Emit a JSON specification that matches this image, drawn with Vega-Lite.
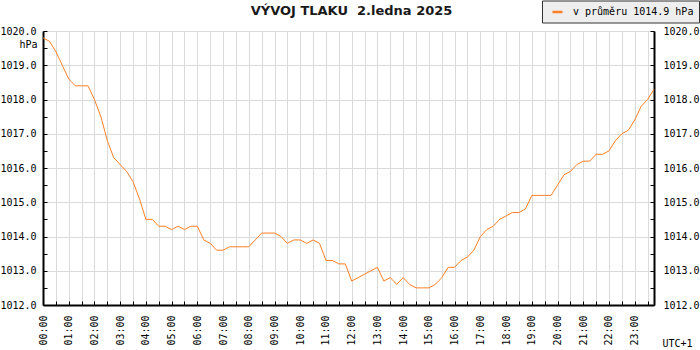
{
  "$schema": "https://vega.github.io/schema/vega-lite/v6.json",
  "autosize": {"type": "none"},
  "width": 611,
  "height": 274,
  "padding": {"left": 43, "top": 31, "right": 46, "bottom": 45},
  "background": "white",
  "title": {
    "text": "VÝVOJ TLAKU\u00a0 2.ledna 2025",
    "font": "DejaVu Sans",
    "fontSize": 13,
    "fontWeight": "bold",
    "color": "#1a1a1a",
    "anchor": "middle",
    "frame": "group",
    "baseline": "alphabetic",
    "offset": -27.5,
    "dx": 3
  },
  "config": {"view": {"stroke": null}},
  "data": {
    "format": {"parse": {"t": "utc:'%H:%M'"}},
    "values": [
      {"t": "00:00", "p": 1019.8}, {"t": "00:15", "p": 1019.7}, {"t": "00:30", "p": 1019.4}, {"t": "00:45", "p": 1019.0},
      {"t": "01:00", "p": 1018.6}, {"t": "01:15", "p": 1018.4}, {"t": "01:30", "p": 1018.4}, {"t": "01:45", "p": 1018.4},
      {"t": "02:00", "p": 1018.0}, {"t": "02:15", "p": 1017.5}, {"t": "02:30", "p": 1016.8}, {"t": "02:45", "p": 1016.3},
      {"t": "03:00", "p": 1016.1}, {"t": "03:15", "p": 1015.9}, {"t": "03:30", "p": 1015.6}, {"t": "03:45", "p": 1015.1},
      {"t": "04:00", "p": 1014.5}, {"t": "04:15", "p": 1014.5}, {"t": "04:30", "p": 1014.3}, {"t": "04:45", "p": 1014.3},
      {"t": "05:00", "p": 1014.2}, {"t": "05:15", "p": 1014.3}, {"t": "05:30", "p": 1014.2}, {"t": "05:45", "p": 1014.3},
      {"t": "06:00", "p": 1014.3}, {"t": "06:15", "p": 1013.9}, {"t": "06:30", "p": 1013.8}, {"t": "06:45", "p": 1013.6},
      {"t": "07:00", "p": 1013.6}, {"t": "07:15", "p": 1013.7}, {"t": "07:30", "p": 1013.7}, {"t": "07:45", "p": 1013.7},
      {"t": "08:00", "p": 1013.7}, {"t": "08:15", "p": 1013.9}, {"t": "08:30", "p": 1014.1}, {"t": "08:45", "p": 1014.1},
      {"t": "09:00", "p": 1014.1}, {"t": "09:15", "p": 1014.0}, {"t": "09:30", "p": 1013.8}, {"t": "09:45", "p": 1013.9},
      {"t": "10:00", "p": 1013.9}, {"t": "10:15", "p": 1013.8}, {"t": "10:30", "p": 1013.9}, {"t": "10:45", "p": 1013.8},
      {"t": "11:00", "p": 1013.3}, {"t": "11:15", "p": 1013.3}, {"t": "11:30", "p": 1013.2}, {"t": "11:45", "p": 1013.2},
      {"t": "12:00", "p": 1012.7}, {"t": "12:15", "p": 1012.8}, {"t": "12:30", "p": 1012.9}, {"t": "12:45", "p": 1013.0},
      {"t": "13:00", "p": 1013.1}, {"t": "13:15", "p": 1012.7}, {"t": "13:30", "p": 1012.8}, {"t": "13:45", "p": 1012.6},
      {"t": "14:00", "p": 1012.8}, {"t": "14:15", "p": 1012.6}, {"t": "14:30", "p": 1012.5}, {"t": "14:45", "p": 1012.5},
      {"t": "15:00", "p": 1012.5}, {"t": "15:15", "p": 1012.6}, {"t": "15:30", "p": 1012.8}, {"t": "15:45", "p": 1013.1},
      {"t": "16:00", "p": 1013.1}, {"t": "16:15", "p": 1013.3}, {"t": "16:30", "p": 1013.4}, {"t": "16:45", "p": 1013.6},
      {"t": "17:00", "p": 1014.0}, {"t": "17:15", "p": 1014.2}, {"t": "17:30", "p": 1014.3}, {"t": "17:45", "p": 1014.5},
      {"t": "18:00", "p": 1014.6}, {"t": "18:15", "p": 1014.7}, {"t": "18:30", "p": 1014.7}, {"t": "18:45", "p": 1014.8},
      {"t": "19:00", "p": 1015.2}, {"t": "19:15", "p": 1015.2}, {"t": "19:30", "p": 1015.2}, {"t": "19:45", "p": 1015.2},
      {"t": "20:00", "p": 1015.5}, {"t": "20:15", "p": 1015.8}, {"t": "20:30", "p": 1015.9}, {"t": "20:45", "p": 1016.1},
      {"t": "21:00", "p": 1016.2}, {"t": "21:15", "p": 1016.2}, {"t": "21:30", "p": 1016.4}, {"t": "21:45", "p": 1016.4},
      {"t": "22:00", "p": 1016.5}, {"t": "22:15", "p": 1016.8}, {"t": "22:30", "p": 1017.0}, {"t": "22:45", "p": 1017.1},
      {"t": "23:00", "p": 1017.4}, {"t": "23:15", "p": 1017.8}, {"t": "23:30", "p": 1018.0}, {"t": "23:45", "p": 1018.3}
    ]
  },
  "encoding": {
    "x": {
      "field": "t",
      "type": "temporal",
      "scale": {"type": "utc", "nice": false},
      "axis": {
        "orient": "bottom",
        "values": [
          {"year": 1900, "month": 1, "date": 1, "hours": 0, "minutes": 0, "utc": true},
          {"year": 1900, "month": 1, "date": 1, "hours": 0, "minutes": 30, "utc": true},
          {"year": 1900, "month": 1, "date": 1, "hours": 1, "minutes": 0, "utc": true},
          {"year": 1900, "month": 1, "date": 1, "hours": 1, "minutes": 30, "utc": true},
          {"year": 1900, "month": 1, "date": 1, "hours": 2, "minutes": 0, "utc": true},
          {"year": 1900, "month": 1, "date": 1, "hours": 2, "minutes": 30, "utc": true},
          {"year": 1900, "month": 1, "date": 1, "hours": 3, "minutes": 0, "utc": true},
          {"year": 1900, "month": 1, "date": 1, "hours": 3, "minutes": 30, "utc": true},
          {"year": 1900, "month": 1, "date": 1, "hours": 4, "minutes": 0, "utc": true},
          {"year": 1900, "month": 1, "date": 1, "hours": 4, "minutes": 30, "utc": true},
          {"year": 1900, "month": 1, "date": 1, "hours": 5, "minutes": 0, "utc": true},
          {"year": 1900, "month": 1, "date": 1, "hours": 5, "minutes": 30, "utc": true},
          {"year": 1900, "month": 1, "date": 1, "hours": 6, "minutes": 0, "utc": true},
          {"year": 1900, "month": 1, "date": 1, "hours": 6, "minutes": 30, "utc": true},
          {"year": 1900, "month": 1, "date": 1, "hours": 7, "minutes": 0, "utc": true},
          {"year": 1900, "month": 1, "date": 1, "hours": 7, "minutes": 30, "utc": true},
          {"year": 1900, "month": 1, "date": 1, "hours": 8, "minutes": 0, "utc": true},
          {"year": 1900, "month": 1, "date": 1, "hours": 8, "minutes": 30, "utc": true},
          {"year": 1900, "month": 1, "date": 1, "hours": 9, "minutes": 0, "utc": true},
          {"year": 1900, "month": 1, "date": 1, "hours": 9, "minutes": 30, "utc": true},
          {"year": 1900, "month": 1, "date": 1, "hours": 10, "minutes": 0, "utc": true},
          {"year": 1900, "month": 1, "date": 1, "hours": 10, "minutes": 30, "utc": true},
          {"year": 1900, "month": 1, "date": 1, "hours": 11, "minutes": 0, "utc": true},
          {"year": 1900, "month": 1, "date": 1, "hours": 11, "minutes": 30, "utc": true},
          {"year": 1900, "month": 1, "date": 1, "hours": 12, "minutes": 0, "utc": true},
          {"year": 1900, "month": 1, "date": 1, "hours": 12, "minutes": 30, "utc": true},
          {"year": 1900, "month": 1, "date": 1, "hours": 13, "minutes": 0, "utc": true},
          {"year": 1900, "month": 1, "date": 1, "hours": 13, "minutes": 30, "utc": true},
          {"year": 1900, "month": 1, "date": 1, "hours": 14, "minutes": 0, "utc": true},
          {"year": 1900, "month": 1, "date": 1, "hours": 14, "minutes": 30, "utc": true},
          {"year": 1900, "month": 1, "date": 1, "hours": 15, "minutes": 0, "utc": true},
          {"year": 1900, "month": 1, "date": 1, "hours": 15, "minutes": 30, "utc": true},
          {"year": 1900, "month": 1, "date": 1, "hours": 16, "minutes": 0, "utc": true},
          {"year": 1900, "month": 1, "date": 1, "hours": 16, "minutes": 30, "utc": true},
          {"year": 1900, "month": 1, "date": 1, "hours": 17, "minutes": 0, "utc": true},
          {"year": 1900, "month": 1, "date": 1, "hours": 17, "minutes": 30, "utc": true},
          {"year": 1900, "month": 1, "date": 1, "hours": 18, "minutes": 0, "utc": true},
          {"year": 1900, "month": 1, "date": 1, "hours": 18, "minutes": 30, "utc": true},
          {"year": 1900, "month": 1, "date": 1, "hours": 19, "minutes": 0, "utc": true},
          {"year": 1900, "month": 1, "date": 1, "hours": 19, "minutes": 30, "utc": true},
          {"year": 1900, "month": 1, "date": 1, "hours": 20, "minutes": 0, "utc": true},
          {"year": 1900, "month": 1, "date": 1, "hours": 20, "minutes": 30, "utc": true},
          {"year": 1900, "month": 1, "date": 1, "hours": 21, "minutes": 0, "utc": true},
          {"year": 1900, "month": 1, "date": 1, "hours": 21, "minutes": 30, "utc": true},
          {"year": 1900, "month": 1, "date": 1, "hours": 22, "minutes": 0, "utc": true},
          {"year": 1900, "month": 1, "date": 1, "hours": 22, "minutes": 30, "utc": true},
          {"year": 1900, "month": 1, "date": 1, "hours": 23, "minutes": 0, "utc": true},
          {"year": 1900, "month": 1, "date": 1, "hours": 23, "minutes": 30, "utc": true}
        ],
        "labelExpr": "utcFormat(datum.value, '%M') == '00' ? utcFormat(datum.value, '%H:%M') : ''",
        "labelAngle": 270,
        "labelFont": "DejaVu Sans Mono",
        "labelFontSize": 10,
        "labelColor": "black",
        "labelPadding": 14,
        "labelFlush": false,
        "labelOverlap": false,
        "labelBound": false,
        "grid": true,
        "gridColor": "#dadada",
        "gridWidth": 1,
        "ticks": true,
        "tickSize": -4,
        "tickColor": "black",
        "tickWidth": 1,
        "domainColor": "black",
        "domainWidth": 2,
        "title": "UTC+1",
        "titleFont": "DejaVu Sans Mono",
        "titleFontSize": 10,
        "titleFontWeight": "normal",
        "titleColor": "black",
        "titleAlign": "right",
        "titleBaseline": "middle",
        "titleX": 649,
        "titleY": 38
      }
    }
  },
  "layer": [
    {
      "mark": {"type": "line", "strokeWidth": 1, "interpolate": "linear"},
      "encoding": {
        "y": {
          "field": "p",
          "type": "quantitative",
          "scale": {"domain": [1012, 1020], "nice": false, "zero": false},
          "axis": {
            "orient": "left",
            "values": [1012, 1012.5, 1013, 1013.5, 1014, 1014.5, 1015, 1015.5, 1016, 1016.5, 1017, 1017.5, 1018, 1018.5, 1019, 1019.5, 1020],
            "labelExpr": "datum.value % 1 == 0 ? format(datum.value, '.1f') : ''",
            "labelFont": "DejaVu Sans Mono",
            "labelFontSize": 10,
            "labelColor": "black",
            "labelPadding": 11,
            "labelOverlap": false,
            "labelBound": false,
            "labelFlush": false,
            "grid": true,
            "gridColor": "#dadada",
            "gridWidth": 1,
            "gridOpacity": {"condition": {"test": "datum.value % 1 != 0", "value": 0}, "value": 1},
            "ticks": true,
            "tickSize": -4,
            "tickColor": "black",
            "tickWidth": 1,
            "domainColor": "black",
            "domainWidth": 2,
            "title": "hPa",
            "titleFont": "DejaVu Sans Mono",
            "titleFontSize": 10,
            "titleFontWeight": "normal",
            "titleColor": "black",
            "titleAngle": 0,
            "titleAlign": "right",
            "titleBaseline": "middle",
            "titleX": -6,
            "titleY": 13
          }
        },
        "color": {
          "datum": "v průměru 1014.9 hPa",
          "scale": {"range": ["#ff7f24"]},
          "legend": {
            "orient": "none",
            "legendX": 499,
            "legendY": -30.5,
            "direction": "horizontal",
            "title": null,
            "fillColor": "#eeeeee",
            "strokeColor": "#333333",
            "cornerRadius": 0,
            "padding": 5,
            "symbolType": "stroke",
            "symbolSize": 100,
            "symbolStrokeWidth": 2.5,
            "symbolOffset": 4,
            "labelOffset": 9,
            "labelFont": "DejaVu Sans Mono",
            "labelFontSize": 10,
            "labelColor": "black"
          }
        }
      }
    },
    {
      "mark": {"type": "line", "opacity": 0},
      "encoding": {
        "y": {
          "field": "p",
          "type": "quantitative",
          "scale": {"domain": [1012, 1020], "nice": false, "zero": false},
          "axis": {
            "orient": "right",
            "values": [1012, 1012.5, 1013, 1013.5, 1014, 1014.5, 1015, 1015.5, 1016, 1016.5, 1017, 1017.5, 1018, 1018.5, 1019, 1019.5, 1020],
            "labelExpr": "datum.value % 1 == 0 ? format(datum.value, '.1f') : ''",
            "labelFont": "DejaVu Sans Mono",
            "labelFontSize": 10,
            "labelColor": "black",
            "labelPadding": 13,
            "labelOverlap": false,
            "labelBound": false,
            "labelFlush": false,
            "grid": false,
            "ticks": true,
            "tickSize": -4,
            "tickColor": "black",
            "tickWidth": 1,
            "domainColor": "black",
            "domainWidth": 2,
            "title": null
          }
        }
      }
    }
  ],
  "resolve": {"axis": {"y": "independent"}}
}
